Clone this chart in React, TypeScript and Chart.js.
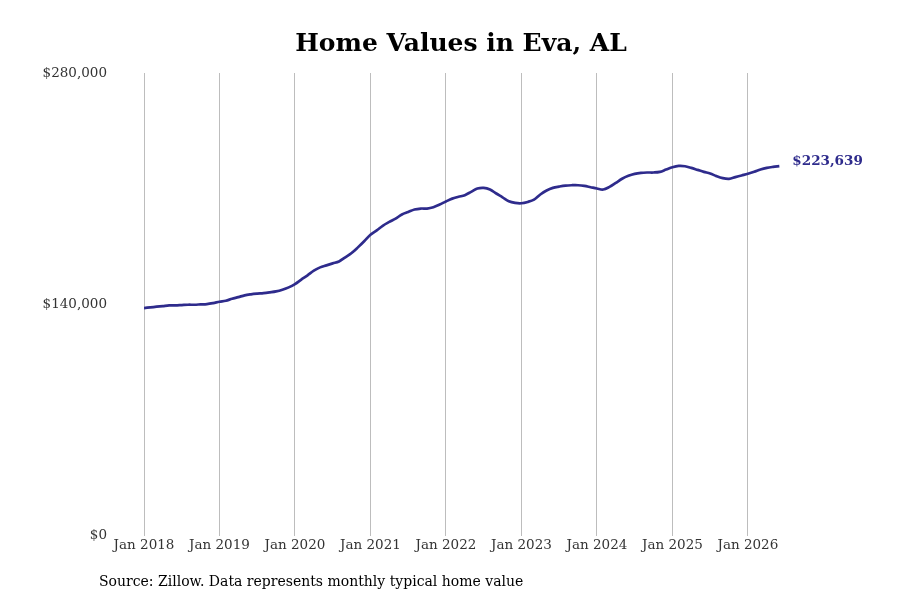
import React, { useEffect, useRef } from "react";
import { Chart, registerables } from "chart.js";

Chart.register(...registerables);

// monthly typical home value, Jan 2018 .. Jun 2026
const START_YEAR = 2018;
const homeValues: number[] = [
  // 2018
  137800, 138200, 138600, 139000, 139400, 139400, 139600, 139800, 139800, 140000, 140200, 140800,
  // 2019
  141600, 142200, 143400, 144400, 145500, 146100, 146500, 146800, 147300, 147900, 148900, 150300,
  // 2020
  152300, 155000, 157600, 160400, 162400, 163600, 164800, 166000, 168500, 171100, 174500, 178200,
  // 2021
  182200, 184800, 187700, 189900, 191900, 194400, 195900, 197400, 198000, 198000, 198800, 200400,
  // 2022
  202300, 204000, 205100, 206100, 208100, 210100, 210500, 209500, 207100, 204800, 202400, 201400,
  // 2023
  201200, 202000, 203400, 206500, 208900, 210500, 211300, 211900, 212100, 212100, 211700, 210900,
  // 2024
  210100, 209500, 211100, 213500, 216000, 217800, 219000, 219600, 219800, 219800, 220200, 221600,
  // 2025
  223000, 223800, 223600, 222600, 221400, 220200, 219200, 217600, 216400, 216000, 217000, 218000,
  // 2026
  219000, 220200, 221600, 222600, 223200, 223639,
];
const tickYears = [2018, 2019, 2020, 2021, 2022, 2023, 2024, 2025, 2026];
const yTicks = [0, 140000, 280000];

const LINE = "#2e2b8c";
const FONT = "'DejaVu Serif', serif";

const money = (v: number) => "$" + Math.round(v).toLocaleString("en-US");

const endLabel = {
  id: "endLabel",
  afterDatasetsDraw(chart: Chart) {
    const meta = chart.getDatasetMeta(0);
    const last = meta.data[meta.data.length - 1];
    if (!last) return;
    const ctx = chart.ctx;
    ctx.save();
    ctx.font = `bold 13.5px ${FONT}`;
    ctx.fillStyle = LINE;
    ctx.textAlign = "left";
    ctx.textBaseline = "middle";
    ctx.fillText(money(homeValues[homeValues.length - 1]), last.x + 13, last.y - 5);
    ctx.restore();
  },
};

const App: React.FC = () => {
  const canvasRef = useRef<HTMLCanvasElement>(null);
  const chartRef = useRef<Chart | null>(null);

  useEffect(() => {
    document.body.style.margin = "0";
    const ctx = canvasRef.current?.getContext("2d");
    if (!ctx) return;
    if (chartRef.current) chartRef.current.destroy();

    chartRef.current = new Chart(ctx, {
      type: "line",
      data: {
        datasets: [
          {
            data: homeValues.map((v, i) => ({ x: i, y: v })),
            borderColor: LINE,
            borderWidth: 2.7,
            pointRadius: 0,
            tension: 0.35,
            fill: false,
          },
        ],
      },
      options: {
        animation: false,
        responsive: false,
        layout: { padding: { left: 42, right: 20, top: 0, bottom: 44 } },
        plugins: {
          legend: { display: false },
          tooltip: { enabled: false },
          title: {
            display: true,
            text: "Home Values in Eva, AL",
            color: "#000",
            font: { family: FONT, size: 25, weight: "bold" },
            padding: { top: 29, bottom: 14 },
          },
        },
        scales: {
          x: {
            type: "linear",
            min: 0,
            max: 117,
            afterBuildTicks: (scale: any) => {
              scale.ticks = tickYears.map((y) => ({ value: (y - START_YEAR) * 12 }));
            },
            ticks: {
              color: "#333",
              font: { family: FONT, size: 13.5 },
              padding: 2,
              maxRotation: 0,
              autoSkip: false,
              callback: (v: any) => `Jan ${START_YEAR + Math.round(Number(v) / 12)}`,
            },
            grid: { display: true, color: "#bdbdbd", lineWidth: 1, drawTicks: false },
            border: { display: false },
          },
          y: {
            min: 0,
            max: 280000,
            afterBuildTicks: (scale: any) => {
              scale.ticks = yTicks.map((v) => ({ value: v }));
            },
            afterFit: (scale: any) => {
              scale.width = 102;
            },
            ticks: {
              color: "#333",
              font: { family: FONT, size: 13.5 },
              padding: 37,
              callback: (v: any) => money(Number(v)),
            },
            grid: { display: false, drawTicks: false },
            border: { display: false },
          },
        },
      },
      plugins: [endLabel],
    });

    return () => {
      if (chartRef.current) {
        chartRef.current.destroy();
        chartRef.current = null;
      }
    };
  }, []);

  return (
    <div style={{ position: "relative", width: 900, height: 600, background: "#fff" }}>
      <canvas ref={canvasRef} width={900} height={600} style={{ width: 900, height: 600 }} />
      <div
        style={{
          position: "absolute",
          left: 99,
          top: 573,
          fontFamily: FONT,
          fontSize: 14,
          color: "#000",
          whiteSpace: "nowrap",
        }}
      >
        Source: Zillow. Data represents monthly typical home value
      </div>
    </div>
  );
};

export default App;
